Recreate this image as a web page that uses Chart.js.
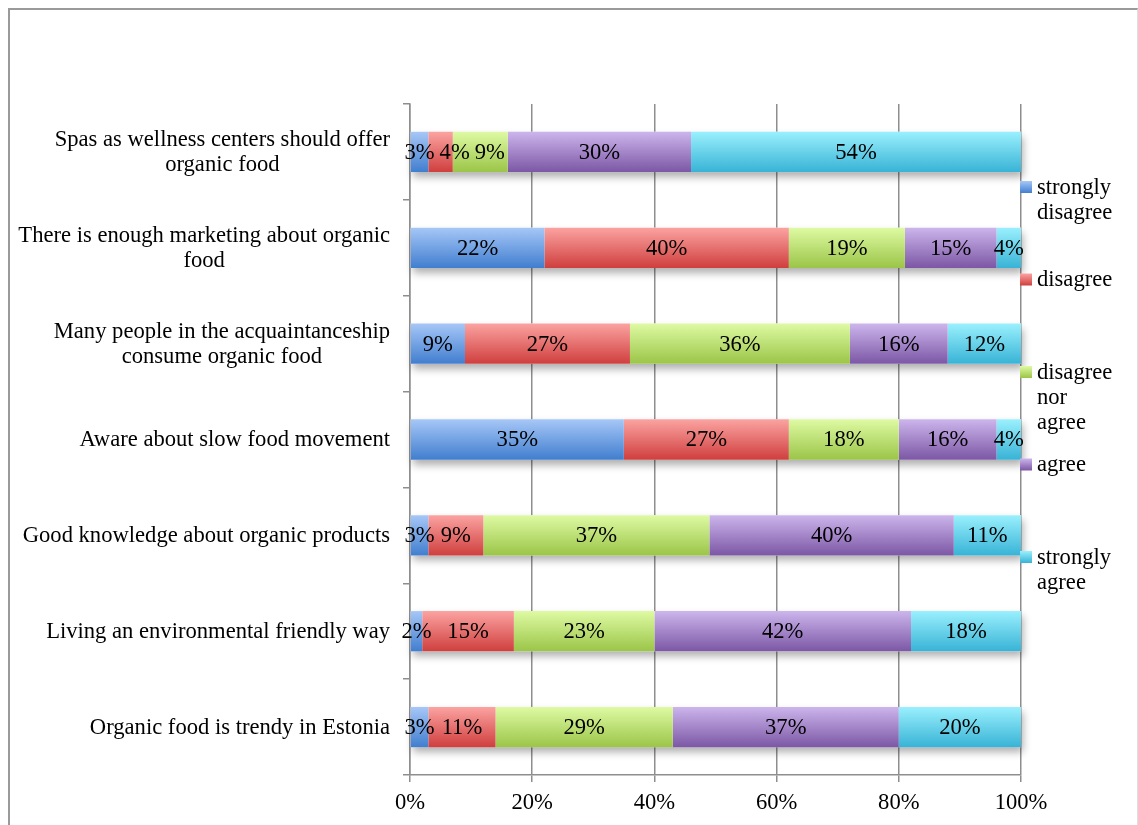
<!DOCTYPE html>
<html>
<head>
<meta charset="UTF-8">
<title>Organic food attitudes</title>
<script src="https://cdn.jsdelivr.net/npm/chart.js@4.4.1/dist/chart.umd.min.js"></script>
<style>
    body { margin: 0; background: #fff; }
    #wrap { position: relative; width: 1138px; height: 825px; }
    #frame {
        position: absolute; left: 8px; top: 8px; width: 1127px; height: 830px;
        border-left: 2px solid #9a9a9a; border-top: 2px solid #9a9a9a; border-right: 1px solid #dedede;
    }
    #box { position: absolute; left: 0; top: 0; width: 1138px; height: 825px; }
</style>

<script>
    // categories (top to bottom)
    const categories = [
        ["Spas as wellness centers should offer", "organic food"],
        ["There is enough marketing about organic", "food"],
        ["Many people in the acquaintanceship", "consume organic food"],
        ["Aware about slow food movement"],
        ["Good knowledge about organic products"],
        ["Living an environmental friendly way"],
        ["Organic food is trendy in Estonia"]
    ];
    const seriesNames = [
        ["strongly", "disagree"],
        ["disagree"],
        ["disagree", "nor", "agree"],
        ["agree"],
        ["strongly", "agree"]
    ];
    // percentages per series, same order as categories
    const stronglyDisagree = [3, 22, 9, 35, 3, 2, 3];
    const disagree = [4, 40, 27, 27, 9, 15, 11];
    const neither = [9, 19, 36, 18, 37, 23, 29];
    const agree = [30, 15, 16, 16, 40, 42, 37];
    const stronglyAgree = [54, 4, 12, 4, 11, 18, 20];
    const xTicks = [0, 20, 40, 60, 80, 100];

    // gradient top / bottom colours
    const colours = [
        ['#a6c7f7', '#417ecf'],
        ['#fba3a1', '#cf3f3e'],
        ['#defaa3', '#9bc548'],
        ['#ccb5ec', '#7c57a5'],
        ['#9af0fd', '#38b3d6']
    ];
    const FAMILY = '"Liberation Serif", "Times New Roman", serif';
    const SIZE = 22.6;
    const FONT = SIZE + 'px ' + FAMILY;
    const TEXT = '#000';
    const BAR_PCT = 0.42;

    function grad(ctx, top, h, c) {
        const g = ctx.createLinearGradient(0, top, 0, top + h);
        g.addColorStop(0, c[0]);
        g.addColorStop(1, c[1]);
        return g;
    }

    function barFill(si) {
        return function (c) {
            const chart = c.chart;
            const ys = chart.scales.y;
            if (!ys || c.type !== 'data') return colours[si][1];
            const p0 = ys.getPixelForValue(0), p1 = ys.getPixelForValue(1);
            const mid = ys.getPixelForValue(c.dataIndex);
            if (!isFinite(p0) || !isFinite(p1) || !isFinite(mid) || p0 === p1) return colours[si][1];
            const h = Math.abs(p1 - p0) * BAR_PCT;
            return grad(chart.ctx, mid - h / 2, h, colours[si]);
        };
    }

    // soft shadow under each whole bar
    const shadowPlugin = {
        id: 'barShadow',
        beforeDatasetsDraw(chart) {
            const ctx = chart.ctx;
            const first = chart.getDatasetMeta(0).data;
            const last = chart.getDatasetMeta(chart.data.datasets.length - 1).data;
            ctx.save();
            ctx.shadowColor = 'rgba(0,0,0,0.32)';
            ctx.shadowBlur = 8;
            ctx.shadowOffsetX = 2;
            ctx.shadowOffsetY = 5;
            ctx.fillStyle = '#fff';
            first.forEach((el, i) => {
                const x0 = el.base;
                const x1 = last[i].x;
                ctx.fillRect(x0, el.y - el.height / 2, x1 - x0, el.height);
            });
            ctx.restore();
        }
    };

    // value labels inside segments, nudged right when they would collide
    const valuePlugin = {
        id: 'valueLabels',
        afterDatasetsDraw(chart) {
            const ctx = chart.ctx;
            ctx.save();
            ctx.font = FONT;
            ctx.fillStyle = TEXT;
            ctx.textAlign = 'center';
            ctx.textBaseline = 'middle';
            const n = chart.data.labels.length;
            for (let i = 0; i < n; i++) {
                let prevRight = -1e9;
                chart.data.datasets.forEach((ds, di) => {
                    const el = chart.getDatasetMeta(di).data[i];
                    const txt = ds.data[i] + '%';
                    const w = ctx.measureText(txt).width;
                    let cx = (el.x + el.base) / 2;
                    if (cx - w / 2 < prevRight + 5) cx = prevRight + 5 + w / 2;
                    prevRight = cx + w / 2;
                    ctx.fillText(txt, cx, el.y + 1);
                });
            }
            ctx.restore();
        }
    };

    // category labels: block right aligned, lines centred in block
    const catPlugin = {
        id: 'catLabels',
        afterDraw(chart) {
            const ctx = chart.ctx;
            const ys = chart.scales.y;
            const right = chart.chartArea.left - 20;
            ctx.save();
            ctx.font = FONT;
            ctx.fillStyle = TEXT;
            ctx.textAlign = 'center';
            ctx.textBaseline = 'middle';
            chart.data.labels.forEach((lines, i) => {
                const w = Math.max(...lines.map(l => ctx.measureText(l).width));
                const cy = ys.getPixelForValue(i) + 1;
                const lh = 25;
                const y0 = cy - (lines.length - 1) * lh / 2;
                lines.forEach((l, k) => ctx.fillText(l, right - w / 2, y0 + k * lh));
            });
            ctx.restore();
        }
    };

    // legend on the right
    const legendPlugin = {
        id: 'sideLegend',
        afterDraw(chart) {
            const ctx = chart.ctx;
            const x = chart.chartArea.right - 1;
            ctx.save();
            ctx.font = FONT;
            ctx.textAlign = 'left';
            ctx.textBaseline = 'middle';
            chart.data.datasets.forEach((ds, i) => {
                const y = 187 + i * 92.5;
                ctx.fillStyle = grad(ctx, y - 6, 12, colours[i]);
                ctx.fillRect(x, y - 6, 12, 12);
                ctx.fillStyle = TEXT;
                seriesNames[i].forEach((l, k) => ctx.fillText(l, x + 17, y + 1 + k * 25));
            });
            ctx.restore();
        }
    };

    window.onload = function () {
        const series = [stronglyDisagree, disagree, neither, agree, stronglyAgree];
        const ctx = document.getElementById('box').getContext('2d');
        new Chart(ctx, {
            type: 'bar',
            data: {
                labels: categories,
                datasets: series.map((d, i) => ({
                    label: seriesNames[i].join(' '),
                    data: d,
                    backgroundColor: barFill(i),
                    borderWidth: 0,
                    barPercentage: 1,
                    categoryPercentage: BAR_PCT
                }))
            },
            options: {
                indexAxis: 'y',
                responsive: true,
                maintainAspectRatio: false,
                animation: false,
                events: [],
                layout: { padding: { left: 0, top: 104, right: 117, bottom: 0 } },
                plugins: { legend: { display: false }, tooltip: { enabled: false } },
                scales: {
                    x: {
                        stacked: true,
                        min: 0,
                        max: 100,
                        afterBuildTicks: s => { s.ticks = xTicks.map(v => ({ value: v })); },
                        afterFit: s => { s.height = 50; },
                        ticks: {
                            font: { family: FAMILY, size: SIZE },
                            color: TEXT,
                            padding: 8,
                            maxRotation: 0,
                            callback: v => v + '%'
                        },
                        grid: { color: '#8e8e8e', lineWidth: 1.5, tickLength: 7 },
                        border: { color: '#8e8e8e', width: 1.5 }
                    },
                    y: {
                        stacked: true,
                        afterFit: s => { s.width = 410; },
                        ticks: { display: false },
                        grid: { drawOnChartArea: false, drawTicks: true, tickLength: 7, color: '#8e8e8e', lineWidth: 1.5, offset: true },
                        border: { color: '#8e8e8e', width: 1.5 }
                    }
                }
            },
            plugins: [shadowPlugin, valuePlugin, catPlugin, legendPlugin]
        });
    };
</script>
</head>
<body>
<div id="wrap">
    <div id="frame"></div>
    <canvas id="box"></canvas>
</div>
</body>
</html>
